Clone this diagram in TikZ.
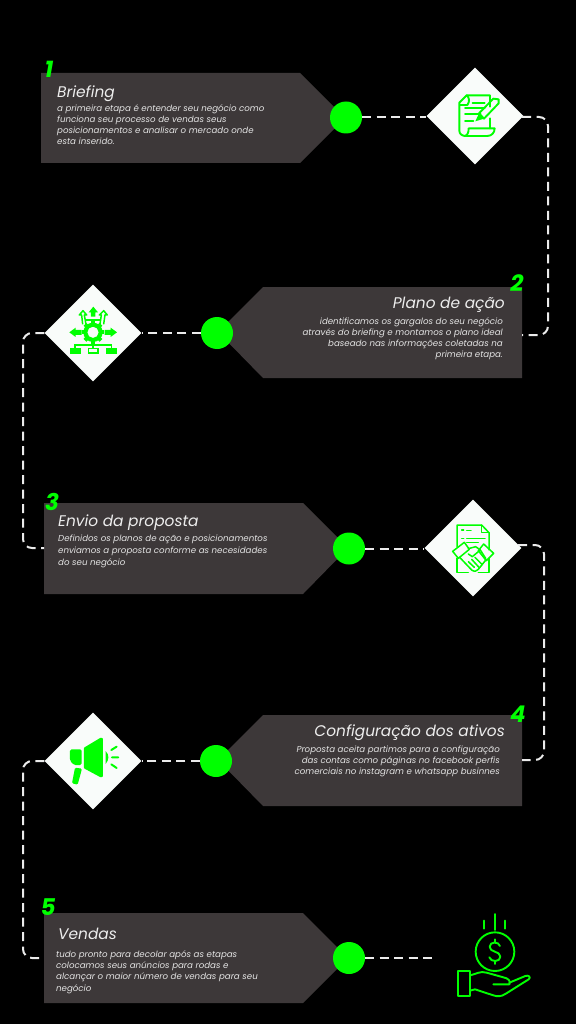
\documentclass[tikz,border=0pt]{standalone}
\usepackage{fontspec}
\setmainfont{Poppins}
\usetikzlibrary{shapes.geometric}
\definecolor{gr}{HTML}{00FF00}
\definecolor{panelc}{HTML}{3D3839}
\definecolor{txt}{HTML}{E4E4E4}
\definecolor{diac}{HTML}{F9FCFA}
\tikzset{
 x=1pt,y=-1pt,
 panel/.style={fill=panelc,draw=none},
 dot/.style={circle,fill=gr,draw=none,minimum size=32pt,inner sep=0pt},
 dia/.style={diamond,fill=diac,draw=none,minimum width=97pt,minimum height=97pt,inner sep=0pt,aspect=1},
 link/.style={draw=white!92!black,line width=2pt,dash pattern=on 9pt off 5.5pt,rounded corners=9pt},
 title/.style={text=white!93!black,inner sep=0pt,font=\itshape\fontsize{15.4}{17}\selectfont},
 body/.style={text=txt,inner sep=0pt,font=\itshape\fontsize{8.65}{11.2}\selectfont},
 num/.style={text=gr,inner sep=0pt,font=\bfseries\itshape\fontsize{23}{24}\selectfont},
 ic/.style={draw=gr,line width=1.9pt,line join=round,line cap=round},
 ict/.style={draw=gr,line width=1.5pt,line join=round,line cap=round},
 zoomed/.style={x=0.3333pt,y=-0.3333pt},
}
\begin{document}
\begin{tikzpicture}
\useasboundingbox[fill=black] (0,0) rectangle (576,1024);
% panels
\fill[panel] (41,73) -- (300,73) -- (345,118) -- (300,163) -- (41,163) -- cycle;
\fill[panel] (522,287) -- (263,287) -- (218,332) -- (263,378) -- (522,378) -- cycle;
\fill[panel] (44,503) -- (303,503) -- (348,548) -- (303,594) -- (44,594) -- cycle;
\fill[panel] (522,715) -- (263,715) -- (218,760) -- (263,806) -- (522,806) -- cycle;
\fill[panel] (44,913) -- (303,913) -- (348,958) -- (303,1003) -- (44,1003) -- cycle;
\coordinate (p2r) at (522,335);
\coordinate (p3l) at (44,548);
\coordinate (p4r) at (522,760);
\coordinate (p5l) at (44,958);
\coordinate (fim) at (437,958);
\coordinate (d1r) at (522,117);
\coordinate (d3r) at (518,545);
% nodes
\node[dot] (c1) at (346,117.500) {};
\node[dot] (c2) at (217,333) {};
\node[dot] (c3) at (349,548.500) {};
\node[dot] (c4) at (216,761) {};
\node[dot] (c5) at (349,958) {};
\node[dia] (d1) at (475,116) {};
\node[dia] (d2) at (93,333) {};
\node[dia] (d3) at (473,548) {};
\node[dia] (d4) at (93,761) {};
% connectors
\draw[link] (c1.east) -- (c1.east -| d1.west);
\draw[link] (d1r) -- (548,117) -- (548,335) -- (p2r);
\draw[link] (c2.west) -- (d2.east);
\draw[link] (d2.west) -- (23,333) -- (23,548) -- (p3l);
\draw[link] (c3.east) -- (c3.east -| d3.west);
\draw[link] (d3r) -- (544,545) -- (544,760) -- (p4r);
\draw[link] (c4.west) -- (d4.east);
\draw[link] (d4.west) -- (23,761) -- (23,958) -- (p5l);
\draw[link] (c5.east) -- (fim);
% numbers
\node[num,anchor=base] (n1) at (49,78) {1};
\node[num,anchor=base] (n2) at (517,291) {2};
\node[num,anchor=base] (n3) at (52,510) {3};
\node[num,anchor=base] (n4) at (518,722) {4};
\node[num,anchor=base] (n5) at (48,915) {5};
% texts
\node[title,anchor=base west] (t1) at (57,98) {Briefing};
\node[body,anchor=north west,align=left] (b1) at (57,104) {a primeira etapa é entender seu negócio como\\funciona seu processo de vendas seus\\posicionamentos e analisar o mercado onde\\esta inserido.};
\node[title,anchor=base east] (t2) at (505,308) {Plano de ação};
\node[body,anchor=north east,align=right] (b2) at (503,317) {identificamos os gargalos do seu negócio\\através do briefing e montamos  o plano ideal\\baseado nas informações coletadas na\\primeira etapa.};
\node[title,anchor=base west] (t3) at (58,526) {Envio da proposta};
\node[body,anchor=north west,align=left,font=\itshape\fontsize{8.65}{11.8}\selectfont] (b3) at (58,535) {Definidos os planos de ação e posicionamentos\\enviamos a proposta conforme as necesidades\\do seu negócio};
\node[title,anchor=base east] (t4) at (505,736) {Configuração dos ativos};
\node[body,anchor=north east,align=right] (b4) at (500,745.500) {Proposta aceita partimos para a configuração\\das contas como páginas no facebook  perfis\\comerciais no instagram e whatsapp businnes};
\node[title,anchor=base west] (t5) at (58,939.500) {Vendas};
\node[body,anchor=north west,align=left] (b5) at (56,950.500) {tudo pronto para decolar após as etapas\\colocamos seus anúncios para rodas e\\alcançar o maior número de vendas para seu\\negócio};
% icon 1: document and pen
\begin{scope}[shift={(410,60)},zoomed]
 \draw[ic] (240,140) -- (240,106) -- (170,106) -- (148,128) -- (148,212) .. controls (148,222) and (156,228) .. (168,228) -- (232,228) .. controls (245,228) and (254,218) .. (254,205) -- (176,205) .. controls (176,218) and (172,228) .. (162,228);
 \draw[ic] (170,106) .. controls (178,112) and (180,125) .. (172,135) -- (150,135);
 \draw[ic] (240,175) -- (240,205);
 \draw[ic] (188,128) -- (224,128);
 \draw[ic] (165,145) -- (224,145);
 \draw[ic] (165,162) -- (212,162);
 \draw[ic] (165,182) -- (190,182);
 \draw[ic] (207,160) -- (250,116) -- (266,118) -- (266,130) -- (222,176) -- cycle;
 \fill[gr] (207,160) -- (222,176) -- (196,184) -- cycle;
\end{scope}
% icon 2: gear and arrows
\begin{scope}[shift={(10,275)},zoomed]
 \foreach \a in {0,45,...,315}{\fill[gr,rotate around={\a:(249,172)}] (243,138) rectangle (255,152);}
 \fill[gr,even odd rule] (249,172) circle (29) (249,172) circle (17);
 \fill[gr] (178,172) -- (197,158) -- (197,165) -- (215,165) -- (215,180) -- (197,180) -- (197,186) -- cycle;
 \fill[gr] (321,172) -- (302,158) -- (302,165) -- (284,165) -- (284,180) -- (302,180) -- (302,186) -- cycle;
 \fill[gr] (250,95) -- (264,112) -- (256,112) -- (256,125) -- (243,125) -- (243,112) -- (236,112) -- cycle;
 \draw[gr,line width=1.5pt,line join=round] (228,148) -- (223,120) -- (230,120) -- (219,107) -- (208,120) -- (215,120) -- (218,148);
 \draw[gr,line width=1.5pt,line join=round] (270,148) -- (274,120) -- (268,120) -- (281,107) -- (292,120) -- (285,120) -- (281,148);
 \draw[gr,line width=1.5pt] (228,135) -- (270,135);
 \draw[gr,line width=1.5pt] (249,200) -- (249,220) (195,218) -- (195,210) -- (304,210) -- (304,218);
 \fill[gr] (179,218) rectangle (212,236);
 \fill[gr] (288,218) rectangle (321,236);
 \draw[gr,line width=1.3pt] (235,221) rectangle (264,234);
\end{scope}
% icon 3: contract and handshake
\begin{scope}[shift={(415,490)},zoomed]
 \draw[ict] (126,170) -- (126,105) -- (200,105) -- (222,128) -- (222,180);
 \draw[ict] (200,105) -- (200,128) -- (222,128);
 \draw[ict] (222,205) -- (222,248) -- (190,248);
 \draw[ict] (126,205) -- (126,248) -- (160,248);
 \draw[ict] (140,120) -- (146,120) (155,122) -- (168,122);
 \draw[ict] (140,145) -- (146,145) (155,145) -- (210,145);
 \draw[ict] (155,158) -- (190,158);
 \draw[ict] (113,184) -- (148,157) -- (163,178) -- (130,205) -- cycle;
 \draw[ict] (190,182) -- (206,162) -- (236,190) -- (214,212) -- cycle;
 \draw[ict] (160,176) -- (182,170) -- (196,180) -- (172,200) -- (160,192);
 \draw[ict] (134,202) -- (170,240) .. controls (178,246) and (186,244) .. (190,238) -- (214,208);
 \draw[ict] (196,180) -- (212,205);
 \draw[ict] (160,215) -- (178,232) (170,208) -- (192,232) (180,202) -- (202,224);
\end{scope}
% icon 4: megaphone
\begin{scope}[shift={(10,700)},zoomed]
 \fill[gr,rounded corners=0.6pt] (222,143) -- (272,113) -- (279,115) -- (279,230) -- (272,232) -- (222,205) -- cycle;
 \fill[gr,rounded corners=1.5pt] (180,148) -- (215,148) -- (215,195) -- (192,195) -- (180,182) -- cycle;
 \fill[gr,rounded corners=1.2pt] (195,203) -- (216,206) -- (203,254) -- (186,250) -- cycle;
 \fill[gr] (287,153) .. controls (298,165) and (298,178) .. (287,192) -- cycle;
 \draw[gr,line width=2pt,line cap=round] (304,150) -- (320,140) (306,172) -- (325,172) (304,193) -- (320,204);
\end{scope}
% icon 5: money in hand
\begin{scope}[shift={(420,900)},zoomed]
 \draw[ic] (224,42) -- (224,90) (193,62) -- (193,86) (255,62) -- (255,86);
 \draw[ic] (225,155) circle (58);
 \draw[ic] (240,138) .. controls (236,124) and (210,124) .. (209,140) .. controls (208,158) and (241,152) .. (241,170) .. controls (241,187) and (212,187) .. (208,172);
 \draw[ic] (225,118) -- (225,126) (225,183) -- (225,192);
 \draw[ic] (115,212) rectangle (150,288);
 \draw[ic] (150,226) .. controls (170,222) and (180,212) .. (200,218) -- (250,232) .. controls (264,234) and (274,244) .. (268,253) -- (220,253);
 \draw[ic] (268,248) -- (316,228) .. controls (326,224) and (334,232) .. (326,238) -- (256,282) .. controls (244,290) and (232,290) .. (220,286) -- (165,268) -- (150,272);
\end{scope}
\end{tikzpicture}
\end{document}
